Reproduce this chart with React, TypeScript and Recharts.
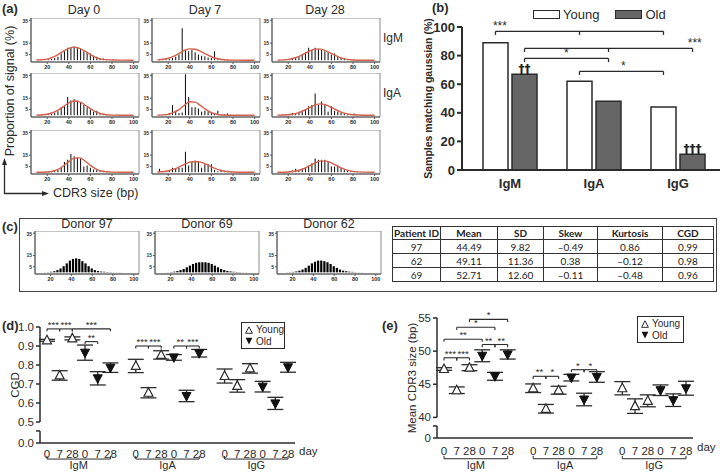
import React from "react";
import {
  Bar,
  ComposedChart,
  ErrorBar,
  LabelList,
  Line,
  ReferenceArea,
  ReferenceDot,
  ReferenceLine,
  Scatter,
  ScatterChart,
  XAxis,
  YAxis,
} from "recharts";

const FONT = '"Liberation Sans", Arial, sans-serif';
const INK = "#2b2b2b";

// ---- (a)/(c) spectratypes: CDR3 size bins (bp) and gaussian fit sample points
const SIZES = [12, 15, 18, 21, 24, 27, 30, 33, 36, 39, 42, 45, 48, 51, 54, 57, 60, 63, 66, 69, 72, 75, 78, 81, 84, 87, 90, 93, 96, 99];
const FIT_X = [10, 20, 25, 30, 35, 40, 45, 50, 55, 60, 65, 70, 80, 90, 100];

const IGM_D0 = [0.2, 0.3, 0.5, 0.8, 1.2, 2, 3, 6, 8, 11, 11, 12, 11, 10, 8, 7, 6, 4, 3, 2, 1.5, 1, 0.6, 0.4, 0.3, 0.2, 0.2, 0.1, 0.1, 0.1];
const IGM_D7 = [0.3, 0.5, 0.8, 1.2, 2, 3, 5, 28, 9, 8, 9, 7, 5, 4, 3.5, 2.5, 2, 8, 1, 0.8, 0.6, 0.4, 0.3, 0.3, 0.2, 0.2, 0.1, 0.1, 0.1, 0.1];
const IGM_D28 = [0.2, 0.3, 0.5, 0.8, 1.2, 2, 3, 5, 7, 11, 9, 11, 10, 9, 8, 7, 5, 6, 3, 2.5, 1.5, 1.2, 1, 0.6, 0.4, 0.3, 0.2, 0.2, 0.1, 0.1];
const IGA_D0 = [0.2, 0.3, 0.5, 0.8, 1.2, 2, 3.5, 7, 8, 16, 13, 14, 13, 11, 9, 7, 5, 3, 4, 1, 0.7, 0.5, 0.4, 0.3, 0.2, 0.2, 0.1, 0.1, 0.1, 0.1];
const IGA_D7 = [0.3, 0.5, 1, 2, 9, 4, 2, 2.5, 36, 16, 7, 7, 6, 3, 4, 3, 2.5, 1.5, 4, 1, 0.8, 1.5, 0.5, 0.3, 0.3, 0.2, 0.2, 0.1, 0.1, 0.1];
const IGA_D28 = [0.3, 0.4, 0.6, 1, 2, 2, 3, 4, 5, 8, 9, 19, 9, 12, 9, 3, 8, 4, 3, 2, 1.5, 1, 0.8, 1.5, 0.4, 0.3, 0.2, 0.2, 0.1, 0.1];
const IGG_D0 = [0.2, 0.3, 0.4, 0.6, 0.8, 1.2, 2, 4, 9, 11, 16, 14, 13, 12, 5, 6, 4, 2.5, 2, 1, 0.7, 0.5, 0.4, 0.3, 0.2, 0.2, 0.1, 0.1, 0.1, 0.1];
const IGG_D7 = [3, 0.5, 1, 2, 4, 3, 4, 4, 18, 6, 9, 10, 9, 4, 7, 7, 7, 2, 1, 1.5, 0.8, 0.5, 0.4, 0.3, 0.2, 0.2, 0.1, 0.1, 0.1, 0.1];
const IGG_D28 = [0.2, 0.3, 0.5, 0.8, 1.5, 3, 2, 3, 4, 6, 8, 12, 11, 11, 11, 9, 5, 5, 6, 4, 2, 1.5, 1, 0.6, 0.4, 0.3, 0.2, 0.1, 0.1, 0.1];

const FIT_IGM_D0 = [0.3, 1.0, 2.5, 5, 8, 10.5, 11.5, 10.5, 8, 5, 2.5, 1.0, 0.3, 0.1, 0];
const FIT_IGM_D7 = [0.4, 1.8, 3.5, 6, 8.6, 10, 9.6, 7.8, 5.4, 3.1, 1.6, 0.7, 0.1, 0, 0];
const FIT_IGM_D28 = [0.1, 0.8, 1.8, 3.5, 5.8, 8.2, 9.8, 9.8, 8.3, 6, 3.7, 1.9, 0.3, 0.05, 0];
const FIT_IGA_D0 = [0.1, 0.9, 2.2, 4.5, 7.6, 10.8, 12.5, 11.8, 9, 5.8, 3, 1.3, 0.1, 0, 0];
const FIT_IGA_D7 = [0.1, 0.8, 2.5, 5, 8.8, 11.8, 11.5, 8.5, 5, 2.3, 0.9, 0.3, 0, 0, 0];
const FIT_IGA_D28 = [0.1, 0.5, 1.1, 2.4, 4.4, 6.9, 9.1, 10, 9.1, 6.9, 4.4, 2.4, 0.5, 0.05, 0];
const FIT_IGG_D0 = [0, 0.2, 0.9, 2.5, 5.5, 9.3, 12.4, 12.6, 9.9, 6.1, 2.9, 1.1, 0.1, 0, 0];
const FIT_IGG_D7 = [0.2, 1.3, 2.7, 4.6, 7, 8.9, 9.5, 8.9, 7.2, 4.8, 2.8, 1.3, 0.2, 0, 0];
const FIT_IGG_D28 = [0, 0.3, 0.9, 1.8, 3.5, 5.8, 8.2, 9.8, 9.8, 8.2, 5.8, 3.5, 0.8, 0.1, 0];

const DONOR_97 = [0, 0.1, 0.2, 0.5, 1, 2, 3.5, 5.5, 8, 10.5, 12, 12.5, 12, 10, 8, 5.5, 3.5, 2, 1.2, 0.7, 0.5, 0.3, 0.2, 0.1, 0.1, 0.1, 0, 0, 0, 0];
const DONOR_69 = [0, 0, 0.1, 0.3, 0.6, 1.2, 2, 3, 4.5, 6, 7.5, 8.5, 9, 9, 9, 8.5, 7.5, 6, 4.5, 3, 2, 1.3, 0.8, 0.5, 0.3, 0.2, 0.1, 0.1, 0, 0];
const DONOR_62 = [0, 0.1, 0.2, 0.4, 0.8, 1.5, 2.5, 4, 6, 8, 9.5, 10.5, 10.5, 10, 9, 7.5, 5.5, 4, 2.5, 1.5, 1, 0.6, 0.4, 0.2, 0.1, 0.1, 0, 0, 0, 0];

const DAY_TITLES = ["Day 0", "Day 7", "Day 28"];
const ROW_LABELS = ["IgM", "IgA", ""];
const HIST_GRID = [
  [IGM_D0, IGM_D7, IGM_D28],
  [IGA_D0, IGA_D7, IGA_D28],
  [IGG_D0, IGG_D7, IGG_D28],
];
const FIT_GRID = [
  [FIT_IGM_D0, FIT_IGM_D7, FIT_IGM_D28],
  [FIT_IGA_D0, FIT_IGA_D7, FIT_IGA_D28],
  [FIT_IGG_D0, FIT_IGG_D7, FIT_IGG_D28],
];
const DONOR_TITLES = ["Donor 97", "Donor 69", "Donor 62"];
const DONOR_BARS = [DONOR_97, DONOR_69, DONOR_62];

// ---- (b)
const ISOTYPES = ["IgM", "IgA", "IgG"];
const YOUNG_PCT = [89, 62, 44];
const OLD_PCT = [67, 48, 11];
const OLD_DAGGERS = ["††", "", "†††"];

// ---- (c) table
const TABLE_HEAD = ["Patient ID", "Mean", "SD", "Skew", "Kurtosis", "CGD"];
const PATIENT_IDS = ["97", "62", "69"];
const MEANS = ["44.49", "49.11", "52.71"];
const SDS = ["9.82", "11.36", "12.60"];
const SKEWS = ["–0.49", "0.38", "–0.11"];
const KURTOSIS = ["0.86", "–0.12", "–0.48"];
const CGDS = ["0.99", "0.98", "0.96"];

// ---- (d)/(e): values per isotype (IgM, IgA, IgG) x day (0, 7, 28)
const SERIES = ["Young", "Old"];
const DAY_TICKS = ["0", "7", "28"];
const CGD_YOUNG = [0.93, 0.745, 0.94, 0.795, 0.654, 0.853, 0.742, 0.69, 0.782];
const CGD_YOUNG_SEM = [0.005, 0.025, 0.008, 0.035, 0.027, 0.022, 0.037, 0.033, 0.025];
const CGD_OLD = [0.865, 0.73, 0.786, 0.84, 0.637, 0.862, 0.686, 0.598, 0.788];
const CGD_OLD_SEM = [0.04, 0.035, 0.025, 0.015, 0.03, 0.02, 0.028, 0.032, 0.026];
const CDR3_YOUNG = [47.3, 44.1, 47.5, 44.4, 41.3, 44.1, 44.4, 41.7, 42.5];
const CDR3_YOUNG_SEM = [0.2, 0.5, 0.45, 0.65, 0.65, 0.6, 1.0, 1.1, 0.9];
const CDR3_OLD = [49.3, 46.2, 49.5, 46.0, 42.7, 46.1, 44.1, 42.6, 44.4];
const CDR3_OLD_SEM = [0.9, 0.6, 0.7, 0.5, 0.95, 0.8, 0.8, 0.95, 1.05];

// significance: [from slot, to slot, height, stars]
const CGD_SIG: [number, number, number, string][] = [
  [0, 1, 0.99, "***"], [1, 2, 0.99, "***"], [2, 5, 0.99, "***"], [3, 4, 0.923, "**"],
  [7, 8, 0.9, "***"], [8, 9, 0.9, "***"], [10, 11, 0.9, "**"], [11, 12, 0.9, "***"],
];
const CDR3_SIG: [number, number, number, string][] = [
  [2, 5, 54.8, "*"], [1, 4, 53.6, "*"], [0, 3, 51.8, "**"], [0, 1, 49.0, "***"], [1, 2, 49.0, "***"],
  [3, 4, 51.0, "**"], [4, 5, 51.0, "**"], [7, 8, 46.2, "**"], [8, 9, 46.2, "*"], [10, 11, 47.2, "*"], [11, 12, 47.2, "*"],
];

const slot = (g: number, old: number, d: number) => g * 7 + old * 3 + d;
const X_TICKS = ISOTYPES.flatMap((_, g) => [0, 1].flatMap((o) => [0, 1, 2].map((d) => slot(g, o, d))));
const X_DOMAIN: [number, number] = [-0.55, 19.55];

const toPoints = (vals: number[], errs: number[], old: number) =>
  vals.map((y, i) => ({ x: slot(Math.floor(i / 3), old, i % 3), y, e: errs[i] }));

const Txt = ({ x, y, size = 12, bold = false, mid = false, children }: any) => (
  <div
    style={{
      position: "absolute",
      left: x,
      top: y,
      fontSize: size,
      fontWeight: bold ? 700 : 400,
      lineHeight: 1,
      whiteSpace: "nowrap",
      transform: mid ? "translate(-50%, -50%)" : "translateY(-50%)",
    }}
  >
    {children}
  </div>
);

const SmallHist = ({ bars, fit, width, plotH, barW }: { bars: number[]; fit?: number[]; width: number; plotH: number; barW: number }) => {
  const data = SIZES.map((s, i) => ({ s, v: bars[i] }));
  const fitData = fit ? FIT_X.map((s, i) => ({ s, c: fit[i] })) : null;
  return (
    <ComposedChart width={width} height={plotH + 12} data={data} margin={{ top: 0, right: 2, bottom: 0, left: 0 }}>
      <XAxis
        dataKey="s"
        type="number"
        domain={[5, 105]}
        allowDataOverflow
        ticks={[20, 40, 60, 80, 100]}
        height={12}
        tickSize={2}
        tickMargin={1}
        tick={{ fontSize: 5.5, fontWeight: 700, fill: INK }}
        axisLine={{ stroke: "#555" }}
        tickLine={{ stroke: "#555" }}
      />
      <YAxis
        type="number"
        domain={[-1.5, 37]}
        allowDataOverflow
        ticks={[0, 5, 15, 25, 35]}
        width={9}
        tickSize={2}
        tickMargin={1}
        tick={{ fontSize: 5, fontWeight: 700, fill: INK }}
        axisLine={{ stroke: "#555" }}
        tickLine={{ stroke: "#555" }}
      />
      <ReferenceArea x1={5} x2={105} y1={-1.5} y2={37} fill="none" stroke="#8a8a8a" strokeWidth={1} ifOverflow="visible" />
      <Bar dataKey="v" fill="#000" barSize={barW} isAnimationActive={false} />
      {fitData && (
        <Line data={fitData} dataKey="c" type="monotone" stroke="#d3604c" strokeWidth={1.4} dot={false} isAnimationActive={false} />
      )}
    </ComposedChart>
  );
};

const bracket = (
  key: string,
  x1: number,
  x2: number,
  y: number,
  drop: number,
  extra: number[] = [],
  w = 1.2,
  label?: any
) =>
  [[x1, x2, y, y], [x1, x1, y - drop, y], [x2, x2, y - drop, y], ...extra.map((m) => [m, m, y - drop, y])].map(([a, b, c, d], i) => (
    <ReferenceLine
      key={`${key}-${i}`}
      segment={[{ x: a, y: c }, { x: b, y: d }]}
      stroke={INK}
      strokeWidth={w}
      ifOverflow="visible"
      label={i === 0 ? label : undefined}
    />
  ));

const UpTri = (p: any) => (
  <path d={`M${p.cx},${p.cy - 5} L${p.cx + 4.5},${p.cy + 3.5} L${p.cx - 4.5},${p.cy + 3.5} Z`} fill="#fff" stroke={INK} strokeWidth={1.2} />
);
const DownTri = (p: any) => (
  <path d={`M${p.cx - 4.5},${p.cy - 3.5} L${p.cx + 4.5},${p.cy - 3.5} L${p.cx},${p.cy + 5} Z`} fill="#111" stroke="#111" strokeWidth={1} />
);

const SeriesLegend = ({ left, top, width }: { left: number; top: number; width: number }) => (
  <div
    style={{
      position: "absolute",
      left,
      top,
      width,
      border: `1.2px solid ${INK}`,
      background: "#fff",
      fontSize: 10,
      lineHeight: "11.5px",
      padding: "1px 3px",
      boxSizing: "border-box",
      whiteSpace: "nowrap",
    }}
  >
    {SERIES.map((s, i) => (
      <div key={s} style={{ display: "flex", alignItems: "center", gap: 3 }}>
        <svg width={8} height={8} style={{ flexShrink: 0 }}>
          {i === 0 ? (
            <path d="M4,0.8 L7.4,7.3 L0.6,7.3 Z" fill="#fff" stroke={INK} strokeWidth={1} />
          ) : (
            <path d="M0.6,0.8 L7.4,0.8 L4,7.4 Z" fill="#111" />
          )}
        </svg>
        <span>{s}</span>
      </div>
    ))}
  </div>
);

type ScatterCfg = {
  young: number[];
  youngErr: number[];
  old: number[];
  oldErr: number[];
  yDomain: [number, number];
  yTicks: number[];
  fmt: (v: number) => string;
  stub: [number, number];
  main: [number, number];
  sig: [number, number, number, string][];
  drop: number;
  groupY: [number, number];
  yLabel: string;
  width: number;
  height: number;
  margin: { top: number; right: number; bottom: number; left: number };
  xHeight: number;
  xMargin: number;
};

const ScatterPanel = (c: ScatterCfg) => {
  const yp = toPoints(c.young, c.youngErr, 0);
  const op = toPoints(c.old, c.oldErr, 1);
  const xMin = X_DOMAIN[0];
  return (
    <ScatterChart width={c.width} height={c.height} margin={c.margin}>
      <XAxis
        dataKey="x"
        type="number"
        domain={X_DOMAIN}
        allowDataOverflow
        ticks={X_TICKS}
        interval={0}
        tickFormatter={(v: number) => DAY_TICKS[(Math.round(v) % 7) % 3]}
        tickLine={false}
        axisLine={{ stroke: INK, strokeWidth: 1.5 }}
        height={c.xHeight}
        tickMargin={c.xMargin}
        tick={{ fontSize: 11.5, fill: INK }}
        label={{ value: "day", position: "right", offset: 4, fontSize: 11.5, fill: INK }}
      />
      <YAxis
        dataKey="y"
        type="number"
        domain={c.yDomain}
        allowDataOverflow
        ticks={c.yTicks}
        interval={0}
        tickFormatter={c.fmt}
        axisLine={false}
        tickSize={4}
        tickLine={{ stroke: INK, strokeWidth: 1.5 }}
        width={30}
        tick={{ fontSize: 11.5, fill: INK }}
        label={{
          value: c.yLabel,
          angle: -90,
          position: "insideLeft",
          offset: 5,
          style: { textAnchor: "middle" },
          fontSize: 11.5,
          fill: INK,
        }}
      />
      <ReferenceLine segment={[{ x: xMin, y: c.stub[0] }, { x: xMin, y: c.stub[1] }]} stroke={INK} strokeWidth={1.5} ifOverflow="visible" />
      <ReferenceLine segment={[{ x: xMin, y: c.main[0] }, { x: xMin, y: c.main[1] }]} stroke={INK} strokeWidth={1.5} ifOverflow="visible" />
      {ISOTYPES.map((g, i) =>
        bracket(`grp-${g}`, i * 7, i * 7 + 5, c.groupY[0], c.groupY[0] - c.groupY[1], [], 1, {
          value: g,
          position: "bottom",
          offset: 2,
          fontSize: 11,
          fill: INK,
        })
      )}
      {c.sig.map(([a, b, y, s], i) =>
        bracket(`sig-${i}`, a, b, y, c.drop, [], 1.1, { value: s, position: "top", offset: 1, fontSize: 9.5, fill: INK })
      )}
      <Scatter data={yp} shape={UpTri} isAnimationActive={false}>
        <ErrorBar dataKey="e" direction="y" width={8} stroke={INK} strokeWidth={1.3} />
      </Scatter>
      <Scatter data={op} shape={DownTri} isAnimationActive={false}>
        <ErrorBar dataKey="e" direction="y" width={8} stroke={INK} strokeWidth={1.3} />
      </Scatter>
    </ScatterChart>
  );
};

const A_COL_LEFT = [22, 143, 263];
const A_ROW_TOP = [18, 73, 130];
const C_COL_LEFT = [26, 146, 268];

const youngAt = (i: number) => i + 0.327;
const oldAt = (i: number) => i + 0.673;

export default function App() {
  const bData = ISOTYPES.map((name, i) => ({ pos: i + 0.5, name, young: YOUNG_PCT[i], old: OLD_PCT[i], dag: OLD_DAGGERS[i] }));
  return (
    <div
      style={{
        position: "absolute",
        left: 0,
        top: 0,
        width: 720,
        height: 472,
        background: "#fff",
        fontFamily: FONT,
        color: INK,
        overflow: "hidden",
      }}
    >
      {/* (a) */}
      <Txt x={2} y={8} size={13} bold>(a)</Txt>
      {DAY_TITLES.map((t, j) => (
        <Txt key={t} x={A_COL_LEFT[j] + 62} y={10} size={12.5} mid>{t}</Txt>
      ))}
      {HIST_GRID.map((row, r) =>
        row.map((bars, j) => (
          <div key={`h-${r}-${j}`} style={{ position: "absolute", left: A_COL_LEFT[j], top: A_ROW_TOP[r] }}>
            <SmallHist bars={bars} fit={FIT_GRID[r][j]} width={119} plotH={44} barW={2} />
          </div>
        ))
      )}
      <svg width={720} height={472} style={{ position: "absolute", left: 0, top: 0, pointerEvents: "none" }}>
        <text x={10} y={91} transform="rotate(-90 10 91)" textAnchor="middle" dominantBaseline="central" fontSize={12.5} fill={INK}>
          Proportion of signal (%)
        </text>
        <line x1={4.5} y1={194} x2={4.5} y2={164} stroke={INK} strokeWidth={1.3} />
        <path d="M4.5,158 L2,165 L7,165 Z" fill={INK} />
        <line x1={4.5} y1={193.5} x2={43} y2={193.5} stroke={INK} strokeWidth={1.3} />
        <path d="M49,193.5 L42,191 L42,196 Z" fill={INK} />
      </svg>
      <Txt x={53} y={193} size={12.5}>CDR3 size (bp)</Txt>

      {/* (b) */}
      <Txt x={432} y={7} size={13} bold>(b)</Txt>
      <div style={{ position: "absolute", left: 533, top: 7, display: "flex", alignItems: "center", fontSize: 13 }}>
        <div style={{ width: 25, height: 7, border: `1.3px solid ${INK}`, background: "#fff", marginRight: 3 }} />
        <span style={{ marginRight: 16 }}>{SERIES[0]}</span>
        <div style={{ width: 25, height: 7, border: `1.3px solid ${INK}`, background: "#666", marginRight: 3 }} />
        <span>{SERIES[1]}</span>
      </div>
      <div style={{ position: "absolute", left: 400, top: 0 }}>
        <ComposedChart width={320} height={195} data={bData} margin={{ top: 27, right: 0, bottom: 5, left: 22 }} barSize={25} barGap={4}>
          <XAxis
            dataKey="pos"
            type="number"
            domain={[0, 3]}
            allowDataOverflow
            ticks={[0.5, 1.5, 2.5]}
            tickFormatter={(v: number) => ISOTYPES[Math.floor(v)]}
            padding={{ left: 6, right: 0 }}
            height={20}
            tickLine={false}
            axisLine={{ stroke: INK, strokeWidth: 2 }}
            tick={{ fontSize: 13, fontWeight: 700, fill: INK }}
            tickMargin={3}
          />
          <YAxis
            domain={[0, 100]}
            ticks={[0, 20, 40, 60, 80, 100]}
            width={40}
            tickSize={5}
            axisLine={{ stroke: INK, strokeWidth: 2 }}
            tickLine={{ stroke: INK, strokeWidth: 2 }}
            tick={{ fontSize: 13, fontWeight: 700, fill: INK }}
            label={{
              value: "Samples matching gaussian (%)",
              angle: -90,
              position: "insideLeft",
              offset: 6,
              style: { textAnchor: "middle" },
              fontSize: 10.5,
              fontWeight: 700,
              fill: INK,
            }}
          />
          <Bar dataKey="young" fill="#fff" stroke={INK} strokeWidth={1.5} isAnimationActive={false} />
          <Bar dataKey="old" fill="#666" stroke={INK} strokeWidth={1.5} isAnimationActive={false}>
            <LabelList
              dataKey="dag"
              position="top"
              offset={1}
              fill="#222"
              stroke="none"
              style={{ fontSize: 12, fontWeight: 700, fill: "#222", fontFamily: '"DejaVu Sans", sans-serif' }}
            />
          </Bar>
          {bracket("b1", youngAt(0), youngAt(2), 97, 2.5, [youngAt(1)], 1.3)}
          {bracket("b2", oldAt(0), oldAt(2), 85, 2.5, [oldAt(1)], 1.3)}
          {bracket("b3", oldAt(0), oldAt(1), 78, 2.5, [], 1.3)}
          {bracket("b4", youngAt(1), youngAt(2), 69, 2.5, [], 1.3)}
          {[
            [0.38, 97, "***"],
            [2.7, 85, "***"],
            [1.17, 78, "*"],
            [1.85, 69, "*"],
          ].map(([x, y, s], i) => (
            <ReferenceDot
              key={`bs-${i}`}
              x={x as number}
              y={y as number}
              r={0.01}
              fill="none"
              stroke="none"
              ifOverflow="visible"
              label={{ value: s as string, position: "top", offset: 1, fontSize: 12, fill: INK }}
            />
          ))}
        </ComposedChart>
      </div>
      {ROW_LABELS.map((l, r) => (l ? <Txt key={l} x={383} y={A_ROW_TOP[r] + 20} size={12}>{l}</Txt> : null))}

      {/* (c) */}
      <Txt x={2} y={226} size={13} bold>(c)</Txt>
      <div style={{ position: "absolute", left: 19, top: 218, width: 698, height: 74, border: `1.5px solid #444`, boxSizing: "border-box" }} />
      {DONOR_TITLES.map((t, j) => (
        <Txt key={t} x={C_COL_LEFT[j] + 9 + 52} y={224} size={12.5} mid>{t}</Txt>
      ))}
      {DONOR_BARS.map((bars, j) => (
        <div key={`d-${j}`} style={{ position: "absolute", left: C_COL_LEFT[j], top: 231 }}>
          <SmallHist bars={bars} width={115} plotH={43} barW={2.2} />
        </div>
      ))}
      <table
        style={{
          position: "absolute",
          left: 392,
          top: 226,
          width: 321,
          borderCollapse: "collapse",
          tableLayout: "fixed",
          fontFamily: 'Lato, "Open Sans", sans-serif',
          fontSize: 10,
          textAlign: "center",
          color: "#222",
        }}
      >
        <colgroup>
          {[48, 57, 46, 54, 65, 51].map((w, i) => (
            <col key={i} style={{ width: w }} />
          ))}
        </colgroup>
        <tbody>
          <tr style={{ height: 13 }}>
            {TABLE_HEAD.map((h) => (
              <th key={h} style={{ border: "1px solid #333", padding: 0, fontWeight: 700, lineHeight: "11px" }}>{h}</th>
            ))}
          </tr>
          {PATIENT_IDS.map((id, i) => (
            <tr key={id} style={{ height: 14 }}>
              {[id, MEANS[i], SDS[i], SKEWS[i], KURTOSIS[i], CGDS[i]].map((v, k) => (
                <td key={k} style={{ border: "1px solid #333", padding: 0, lineHeight: "12px" }}>{v}</td>
              ))}
            </tr>
          ))}
        </tbody>
      </table>

      {/* (d) */}
      <Txt x={2} y={325} size={13} bold>(d)</Txt>
      <div style={{ position: "absolute", left: 0, top: 310 }}>
        <ScatterPanel
          young={CGD_YOUNG}
          youngErr={CGD_YOUNG_SEM}
          old={CGD_OLD}
          oldErr={CGD_OLD_SEM}
          yDomain={[0.3895, 1.0]}
          yTicks={[0.3895, 0.453, 0.5, 0.6, 0.7, 0.8, 0.9, 1.0]}
          fmt={(v: number) => (v < 0.42 ? "0.0" : v < 0.48 ? "" : v.toFixed(1))}
          stub={[0.3895, 0.453]}
          main={[0.5, 1.0]}
          sig={CGD_SIG}
          drop={0.013}
          groupY={[0.305, 0.321]}
          yLabel="CGD"
          width={320}
          height={162}
          margin={{ top: 17, right: 25, bottom: 13, left: 10 }}
          xHeight={16}
          xMargin={1}
        />
      </div>
      <SeriesLegend left={241} top={322} width={44} />

      {/* (e) */}
      <Txt x={382} y={325} size={13} bold>(e)</Txt>
      <div style={{ position: "absolute", left: 360, top: 300 }}>
        <ScatterPanel
          young={CDR3_YOUNG}
          youngErr={CDR3_YOUNG_SEM}
          old={CDR3_OLD}
          oldErr={CDR3_OLD_SEM}
          yDomain={[36.89, 55]}
          yTicks={[36.89, 38.7, 40, 45, 50, 55]}
          fmt={(v: number) => (v < 37.5 ? "0" : v < 39 ? "" : String(v))}
          stub={[36.89, 38.7]}
          main={[40, 55]}
          sig={CDR3_SIG}
          drop={0.4}
          groupY={[33.76, 34.2]}
          yLabel="Mean CDR3 size (bp)"
          width={360}
          height={172}
          margin={{ top: 18, right: 27, bottom: 16, left: 47 }}
          xHeight={18}
          xMargin={3}
        />
      </div>
      <SeriesLegend left={637} top={316} width={47} />
    </div>
  );
}
